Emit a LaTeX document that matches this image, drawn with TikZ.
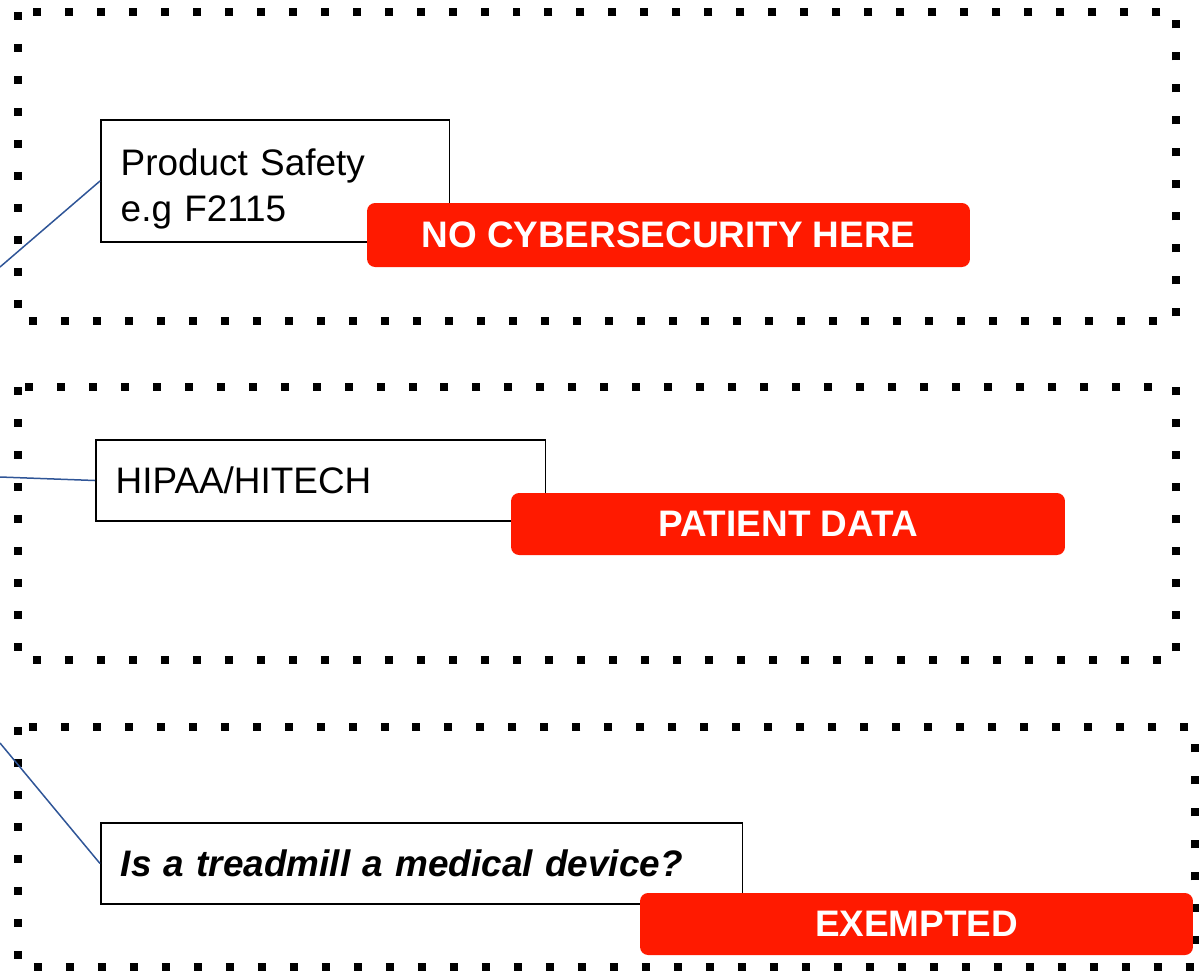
\documentclass[tikz,border=0pt]{standalone}
\usepackage{fontspec}
\setmainfont{Liberation Sans}
\definecolor{alarm}{RGB}{255,26,0}
\definecolor{linkblue}{RGB}{47,85,151}
\tikzset{
  zone/.style={line width=0.16cm, dash pattern=on 0.16cm off 0.48cm},
  infobox/.style={draw, line width=0.03cm, fill=white, align=left, anchor=west,
    inner xsep=0.4cm, inner ysep=0cm, font=\fontsize{21}{26}\selectfont},
  tag/.style={fill=alarm, rounded corners=0.16cm, text=white, inner sep=0cm,
    font=\fontsize{21}{26}\selectfont\bfseries},
  link/.style={draw=linkblue, line width=0.03cm}
}
\begin{document}
\begin{tikzpicture}[x=0.02cm,y=-0.02cm]
  \useasboundingbox (0,0) rectangle (1202,974);
  % dotted zones
  \draw[zone](18,12) rectangle (1176,321);
  \draw[zone](18,387) rectangle (1176,660);
  \draw[zone](18,727) rectangle (1195,967);
  % boxes
  \node[infobox, text width=6.18cm, minimum height=2.44cm](safety) at (100,181){\rule{0pt}{0.86cm}Product Safety\\e.g F2115};
  \node[infobox, text width=8.2cm, minimum height=1.62cm](hipaa) at (95,480.5){HIPAA/HITECH};
  \node[infobox, text width=12.04cm, minimum height=1.62cm, font=\fontsize{21}{26}\selectfont\bfseries\itshape](treadmill) at (100,863.5){Is a treadmill a medical device?};
  % red tags
  \node[tag, minimum width=12.06cm, minimum height=1.28cm](nocyber) at (668.5,235){NO CYBERSECURITY HERE};
  \node[tag, minimum width=11.08cm, minimum height=1.24cm](patient) at (788,524){PATIENT DATA};
  \node[tag, minimum width=11.06cm, minimum height=1.24cm](exempt) at (916.5,924){EXEMPTED};
  % links to the left
  \coordinate(edge1) at (0,267);
  \coordinate(edge2) at (0,477);
  \coordinate(edge3) at (0,743);
  \draw[link](safety.west)--(edge1);
  \draw[link](hipaa.west)--(edge2);
  \draw[link](treadmill.west)--(edge3);
\end{tikzpicture}
\end{document}
